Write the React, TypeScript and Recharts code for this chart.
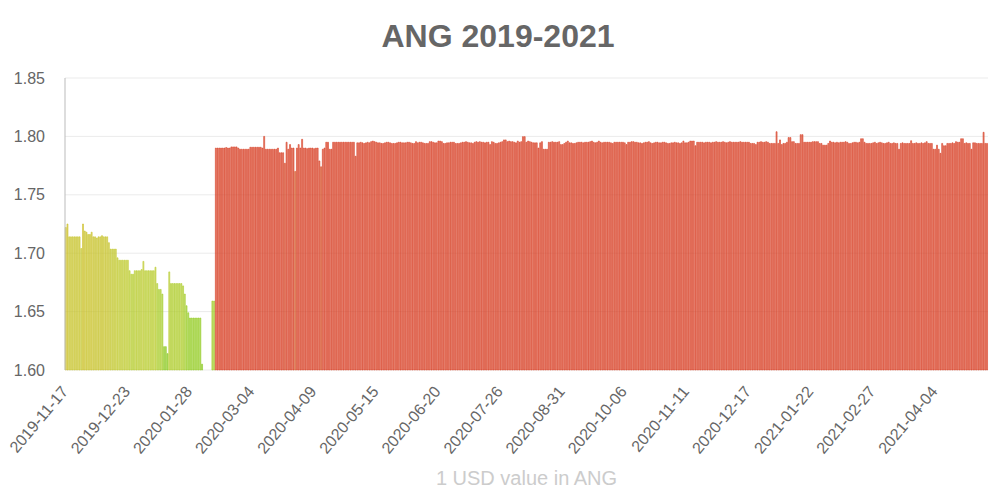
import { BarChart, Bar, XAxis, YAxis, CartesianGrid, Cell } from "recharts";

// daily 1 USD -> ANG rates, one array per month
const nov2019 = [1.722, 1.725, 1.714, 1.714, 1.714, 1.714, 1.714, 1.714, 1.714, 1.704, 1.725, 1.719, 1.718, 1.716];
const dec2019 = [
  1.716, 1.718, 1.714, 1.714, 1.713, 1.714, 1.714, 1.715, 1.714, 1.714, 1.714, 1.709, 1.7035, 1.7035, 1.7035, 1.7035,
  1.696, 1.694, 1.694, 1.694, 1.694, 1.694, 1.694, 1.685, 1.682, 1.682, 1.685, 1.685, 1.685, 1.685, 1.686,
];
const jan2020 = [
  1.693, 1.685, 1.685, 1.685, 1.685, 1.685, 1.685, 1.688, 1.674, 1.669, 1.669, 1.665, 1.62, 1.62, 1.614, 1.684,
  1.674, 1.674, 1.674, 1.674, 1.674, 1.674, 1.674, 1.672, 1.665, 1.655, 1.649, 1.6445, 1.6445, 1.6445, 1.6445,
];
const feb2020 = [
  1.6445, 1.6445, 1.6445, 1.605, null, null, null, null, null, 1.659, 1.659, 1.79, 1.79, 1.79, 1.79, 1.79, 1.79,
  1.7905, 1.79, 1.79, 1.791, 1.791, 1.791, 1.791, 1.79, 1.789, 1.789, 1.789, 1.789,
];
const mar2020 = [
  1.789, 1.789, 1.7907, 1.7907, 1.7907, 1.7907, 1.7907, 1.7907, 1.7907, 1.79, 1.8, 1.789, 1.789, 1.789, 1.789, 1.789,
  1.789, 1.789, 1.79, 1.786, 1.786, 1.786, 1.777, 1.795, 1.789, 1.793, 1.79, 1.79, 1.77, 1.79, 1.793,
];
const apr2020 = [
  1.79, 1.7975, 1.79, 1.79, 1.7895, 1.79, 1.79, 1.79, 1.7895, 1.79, 1.79, 1.779, 1.774, 1.789, 1.79, 1.795, 1.795,
  1.789, 1.789, 1.795, 1.795, 1.795, 1.795, 1.795, 1.795, 1.795, 1.795, 1.795, 1.795, 1.795,
];
const may2020 = [
  1.795, 1.795, 1.783, 1.7945, 1.7945, 1.795, 1.7945, 1.794, 1.7945, 1.795, 1.7945, 1.7955, 1.796, 1.7955, 1.795,
  1.7945, 1.7945, 1.794, 1.794, 1.7945, 1.795, 1.795, 1.7945, 1.794, 1.794, 1.794, 1.7945, 1.795, 1.795, 1.7945, 1.7945,
];
const jun2020 = [
  1.7945, 1.795, 1.795, 1.7945, 1.794, 1.794, 1.7955, 1.7945, 1.795, 1.795, 1.7945, 1.794, 1.794, 1.794, 1.7955,
  1.7955, 1.795, 1.7945, 1.7945, 1.796, 1.796, 1.7955, 1.794, 1.794, 1.7945, 1.7945, 1.795, 1.795, 1.795, 1.794,
];
const jul2020 = [
  1.794, 1.794, 1.7945, 1.795, 1.795, 1.7955, 1.795, 1.7945, 1.7945, 1.794, 1.795, 1.7955, 1.795, 1.7955, 1.795, 1.795,
  1.7945, 1.795, 1.795, 1.793, 1.7955, 1.795, 1.794, 1.794, 1.7945, 1.795, 1.7955, 1.797, 1.797, 1.7955, 1.796,
];
const aug2020 = [
  1.7955, 1.7955, 1.795, 1.7945, 1.796, 1.795, 1.7955, 1.7998, 1.7998, 1.795, 1.796, 1.7955, 1.795, 1.7945, 1.7945,
  1.7945, 1.79, 1.7945, 1.7955, 1.789, 1.789, 1.789, 1.795, 1.795, 1.7955, 1.795, 1.795, 1.795, 1.7955, 1.793, 1.793,
];
const sep2020 = [
  1.794, 1.795, 1.796, 1.7945, 1.7945, 1.794, 1.794, 1.7945, 1.795, 1.795, 1.795, 1.7945, 1.795, 1.795, 1.795,
  1.7955, 1.796, 1.795, 1.7945, 1.795, 1.796, 1.795, 1.7945, 1.795, 1.795, 1.795, 1.795, 1.7945, 1.794, 1.795,
];
const oct2020 = [
  1.795, 1.795, 1.795, 1.795, 1.795, 1.7945, 1.793, 1.795, 1.795, 1.7955, 1.7955, 1.795, 1.795, 1.7945, 1.7945, 1.794,
  1.7945, 1.795, 1.795, 1.7955, 1.7945, 1.794, 1.7945, 1.795, 1.795, 1.7945, 1.7945, 1.795, 1.795, 1.7945, 1.794,
];
const nov2020 = [
  1.794, 1.7945, 1.7945, 1.795, 1.7945, 1.7945, 1.794, 1.7945, 1.796, 1.7945, 1.7945, 1.795, 1.796, 1.796, 1.796,
  1.792, 1.795, 1.795, 1.795, 1.795, 1.7945, 1.795, 1.795, 1.795, 1.7945, 1.795, 1.795, 1.7955, 1.795, 1.795,
];
const dec2020 = [
  1.795, 1.7955, 1.795, 1.7945, 1.795, 1.7955, 1.795, 1.795, 1.795, 1.795, 1.795, 1.7955, 1.795, 1.795, 1.795, 1.795,
  1.795, 1.794, 1.794, 1.794, 1.793, 1.795, 1.795, 1.7955, 1.795, 1.795, 1.7955, 1.795, 1.794, 1.794, 1.794,
];
const jan2021 = [
  1.794, 1.804, 1.794, 1.797, 1.793, 1.794, 1.794, 1.795, 1.799, 1.799, 1.7955, 1.7955, 1.794, 1.794, 1.794, 1.8015,
  1.8015, 1.795, 1.795, 1.795, 1.795, 1.795, 1.7955, 1.7955, 1.7955, 1.7955, 1.794, 1.794, 1.7925, 1.7925, 1.7925,
];
const feb2021 = [
  1.794, 1.796, 1.795, 1.795, 1.7945, 1.795, 1.7945, 1.795, 1.795, 1.795, 1.7955, 1.795, 1.794, 1.794, 1.7945, 1.795,
  1.795, 1.7945, 1.795, 1.798, 1.798, 1.795, 1.794, 1.794, 1.794, 1.794, 1.7945, 1.795,
];
const mar2021 = [
  1.794, 1.7945, 1.795, 1.7945, 1.794, 1.794, 1.7945, 1.795, 1.794, 1.794, 1.7945, 1.794, 1.794, 1.789, 1.794, 1.7945,
  1.794, 1.794, 1.794, 1.794, 1.7963, 1.794, 1.794, 1.7945, 1.794, 1.794, 1.7945, 1.794, 1.7945, 1.7955, 1.794,
];
const apr2021 = [
  1.794, 1.794, 1.789, 1.789, 1.7925, 1.789, 1.7855, 1.794, 1.792, 1.792, 1.794, 1.794, 1.794, 1.7945, 1.794, 1.7955,
  1.795, 1.795, 1.798, 1.798, 1.794, 1.7945, 1.794, 1.794, 1.789, 1.7945, 1.7945, 1.794, 1.794, 1.794,
];
const may2021 = [1.794, 1.8035, 1.794, 1.794];

const firstDay = [2019, 10, 17]; // 2019-11-17, one bar per day
const yTicks = [1.6, 1.65, 1.7, 1.75, 1.8, 1.85];

const values = [
  ...nov2019, ...dec2019, ...jan2020, ...feb2020, ...mar2020, ...apr2020, ...may2020, ...jun2020, ...jul2020,
  ...aug2020, ...sep2020, ...oct2020, ...nov2020, ...dec2020, ...jan2021, ...feb2021, ...mar2021, ...apr2021,
  ...may2021,
];

const data = values.map((v, i) => ({
  date: new Date(Date.UTC(firstDay[0], firstDay[1], firstDay[2] + i)).toISOString().slice(0, 10),
  rate: v,
}));

// green (low) -> yellow -> red (high)
const stops: [number, number[]][] = [
  [1.6, [132, 200, 30]],
  [1.65, [150, 204, 36]],
  [1.69, [190, 204, 48]],
  [1.725, [204, 192, 40]],
  [1.78, [214, 62, 36]],
];
function colorFor(v: number | null) {
  if (v == null) return "none";
  if (v <= stops[0][0]) return `rgb(${stops[0][1].join(",")})`;
  for (let i = 1; i < stops.length; i++) {
    if (v <= stops[i][0]) {
      const [a, ca] = stops[i - 1];
      const [b, cb] = stops[i];
      const t = (v - a) / (b - a);
      const c = ca.map((x, k) => Math.round(x + (cb[k] - x) * t));
      return `rgb(${c.join(",")})`;
    }
  }
  return `rgb(${stops[stops.length - 1][1].join(",")})`;
}

const font = "'Liberation Sans', Arial, Helvetica, sans-serif";

function DateTick({ x, y, payload }: any) {
  const ax = x + 3;
  const ay = y + 20;
  return (
    <text
      x={ax}
      y={ay}
      transform={`rotate(-50 ${ax} ${ay})`}
      textAnchor="end"
      fill="#666"
      fontSize={16}
      fontFamily={font}
    >
      {payload.value}
    </text>
  );
}

export default function App() {
  return (
    <div style={{ position: "absolute", left: 0, top: 0, width: 1000, height: 500, background: "#fff", fontFamily: font }}>
      <div
        style={{
          position: "absolute",
          left: 0,
          width: 996,
          top: 18,
          textAlign: "center",
          fontSize: 32,
          fontWeight: "bold",
          color: "#666",
        }}
      >
        ANG 2019-2021
      </div>
      <BarChart
        width={1000}
        height={500}
        data={data}
        margin={{ top: 78, right: 12, left: 0, bottom: 0 }}
        barCategoryGap="15%"
      >
        <CartesianGrid vertical={false} stroke="#ebebeb" />
        <XAxis
          dataKey="date"
          interval={35}
          height={130}
          axisLine={false}
          tickLine={false}
          tickSize={0}
          tick={<DateTick />}
        />
        <YAxis
          width={65}
          domain={[1.6, 1.85]}
          ticks={yTicks}
          tickFormatter={(v: number) => v.toFixed(2)}
          axisLine={{ stroke: "#bbb" }}
          tickLine={false}
          tickSize={0}
          tickMargin={20}
          tick={{ fill: "#666", fontSize: 16, fontFamily: font }}
        />
        <Bar dataKey="rate" isAnimationActive={false}>
          {data.map((d, i) => (
            <Cell key={i} fill={colorFor(d.rate)} fillOpacity={0.62} stroke={colorFor(d.rate)} strokeWidth={0.6} />
          ))}
        </Bar>
      </BarChart>
      <div
        style={{
          position: "absolute",
          left: 65,
          width: 923,
          top: 467,
          textAlign: "center",
          fontSize: 20,
          color: "#ccc",
        }}
      >
        1 USD value in ANG
      </div>
    </div>
  );
}
